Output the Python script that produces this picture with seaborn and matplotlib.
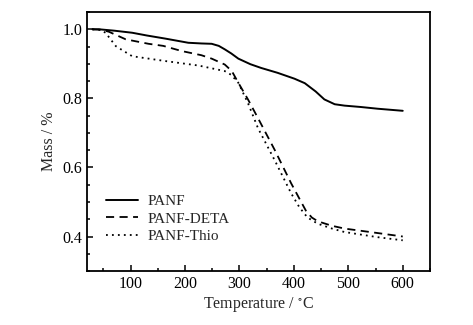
import pandas as pd
import matplotlib
matplotlib.use('Agg')
import matplotlib.pyplot as plt
import seaborn as sns
from matplotlib.ticker import MultipleLocator

## Data
temp_panf = [30, 42, 70, 103, 130, 164, 206, 230, 249, 262, 273, 285, 298, 320, 340, 370, 401, 420, 440, 456, 475, 493, 523, 554, 600]
mass_panf = [1.0, 1.0, 0.996, 0.99, 0.982, 0.973, 0.961, 0.959, 0.958, 0.952, 0.942, 0.93, 0.915, 0.899, 0.888, 0.874, 0.857, 0.844, 0.82, 0.797, 0.783, 0.779, 0.775, 0.77, 0.764]

temp_deta = [30, 45, 60, 91, 133, 160, 194, 230, 249, 273, 286, 298, 316, 334, 365, 395, 410, 422, 433, 444, 470, 493, 554, 600]
mass_deta = [1.0, 0.999, 0.993, 0.971, 0.958, 0.952, 0.937, 0.925, 0.915, 0.898, 0.879, 0.845, 0.796, 0.743, 0.65, 0.554, 0.51, 0.475, 0.455, 0.444, 0.431, 0.423, 0.41, 0.40]

temp_thio = [30, 45, 54, 73, 103, 164, 225, 273, 285, 298, 316, 334, 365, 395, 410, 425, 444, 470, 493, 554, 600]
mass_thio = [1.0, 0.998, 0.99, 0.951, 0.922, 0.908, 0.895, 0.879, 0.868, 0.845, 0.785, 0.714, 0.62, 0.525, 0.485, 0.455, 0.437, 0.423, 0.413, 0.398, 0.389]

labels = ['PANF', 'PANF-DETA', 'PANF-Thio']

sns.set_style('ticks')
plt.rcParams['font.family'] = ['Liberation Serif', 'DejaVu Serif']
plt.rcParams['mathtext.fontset'] = 'stix'

fig = plt.figure(figsize=(4.73, 3.25), dpi=100)
ax = fig.add_axes([0.184, 0.166, 0.725, 0.797])

sns.lineplot(x=temp_panf, y=mass_panf, ax=ax, color='black', lw=1.4, linestyle='-', label=labels[0])
sns.lineplot(x=temp_deta, y=mass_deta, ax=ax, color='black', lw=1.3, linestyle=(0, (4.5, 3)), label=labels[1])
sns.lineplot(x=temp_thio, y=mass_thio, ax=ax, color='black', lw=1.3, linestyle=(0, (1, 2.3)), label=labels[2])

ax.set_xlim(20, 650)
ax.set_ylim(0.3, 1.05)
ax.set_xticks([100, 200, 300, 400, 500, 600])
ax.set_yticks([0.4, 0.6, 0.8, 1.0])
ax.set_yticklabels(['0.4', '0.6', '0.8', '1.0'])
ax.xaxis.set_minor_locator(MultipleLocator(50))
ax.yaxis.set_minor_locator(MultipleLocator(0.05))
ax.tick_params(which='both', direction='in', top=False, right=False, labelsize=11.5, colors='black')
ax.tick_params(which='major', length=4, width=1.1)
ax.tick_params(which='minor', length=2.5, width=1.1)
for s in ax.spines.values():
    s.set_linewidth(1.3)
    s.set_color('black')

ax.set_xlabel('Temperature / $^{\\circ}$C', fontsize=11.5, labelpad=2)
ax.set_ylabel('Mass / %', fontsize=11.5, labelpad=4)

ax.legend(loc='lower left', bbox_to_anchor=(0.015, 0.055), frameon=False, fontsize=11,
          handlelength=2.1, handletextpad=0.6, labelspacing=0.25)

plt.savefig('out.png', dpi=100)
